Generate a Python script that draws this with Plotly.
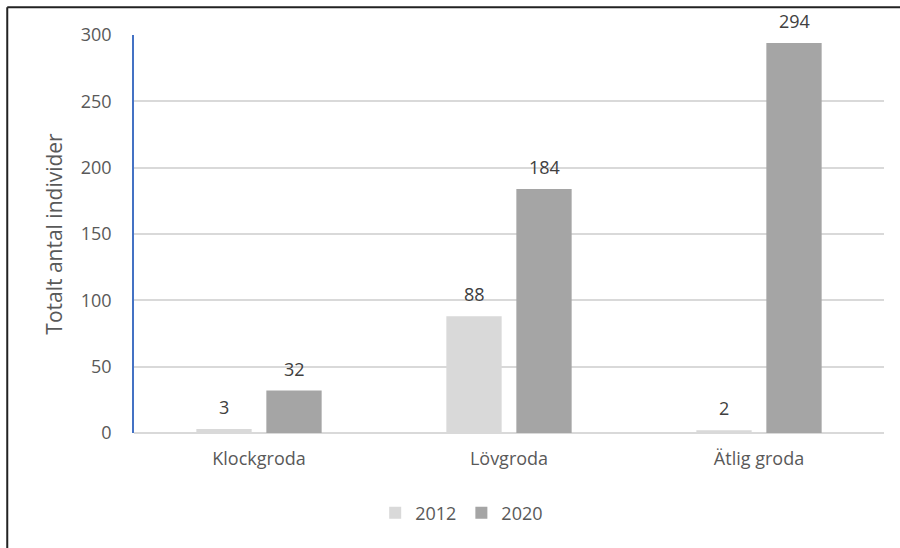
import plotly.graph_objects as go

# Counts of frogs per species, two survey years
species = ["Klockgroda", "Lövgroda", "Ätlig groda"]
years = ["2012", "2020"]
counts_2012 = [3, 88, 2]
counts_2020 = [32, 184, 294]
y_ticks = [0, 50, 100, 150, 200, 250, 300]

colors = {"2012": "#d9d9d9", "2020": "#a5a5a5"}
series = {"2012": counts_2012, "2020": counts_2020}

FONT = "Open Sans"
TXT = "#595959"
SIZE = 18

fig = go.Figure()
for yr in years:
    fig.add_trace(go.Bar(
        name=yr, x=species, y=series[yr],
        marker=dict(color=colors[yr], line=dict(width=0)),
    ))

# value labels above each bar
shifts = {"2012": -35, "2020": 35}
for yr in years:
    for sp, v in zip(species, series[yr]):
        fig.add_annotation(
            x=sp, y=v, text=str(v), showarrow=False,
            xshift=shifts[yr], yshift=8, yanchor="bottom",
            font=dict(family=FONT, size=SIZE, color="#404040"),
        )

# frame lines on the left and top edges
fig.add_shape(type="line", xref="paper", yref="paper", x0=-0.169, x1=-0.169,
              y0=-0.3, y1=1.07, line=dict(color="#222222", width=2))
fig.add_shape(type="line", xref="paper", yref="paper", x0=-0.169, x1=1.03,
              y0=1.07, y1=1.07, line=dict(color="#222222", width=2))

fig.update_layout(
    width=900, height=548,
    margin=dict(l=134, r=16, t=35, b=115),
    paper_bgcolor="white", plot_bgcolor="white",
    barmode="group", bargap=0.44, bargroupgap=0.21,
    font=dict(family=FONT, size=SIZE, color=TXT),
    showlegend=True,
    legend=dict(orientation="h", xref="container", yref="container",
                x=0.513, xanchor="center", y=0.064, yanchor="middle",
                font=dict(size=SIZE, color=TXT), itemwidth=30,
                traceorder="normal"),
    xaxis=dict(showgrid=False, showline=False, ticks="",
               ticklabelstandoff=13, tickfont=dict(size=SIZE, color=TXT)),
    yaxis=dict(range=[0, 300], tickvals=y_ticks, showgrid=True,
               gridcolor="#d9d9d9", gridwidth=1.5,
               showline=True, linecolor="#4472c4", linewidth=1.5,
               zeroline=True, zerolinecolor="#d9d9d9", zerolinewidth=1.5,
               ticks="", ticklabelstandoff=17,
               tickfont=dict(size=SIZE, color=TXT),
               title=dict(text="Totalt antal individer", standoff=12,
                          font=dict(size=21, color=TXT))),
)

fig.write_html("out.html")
